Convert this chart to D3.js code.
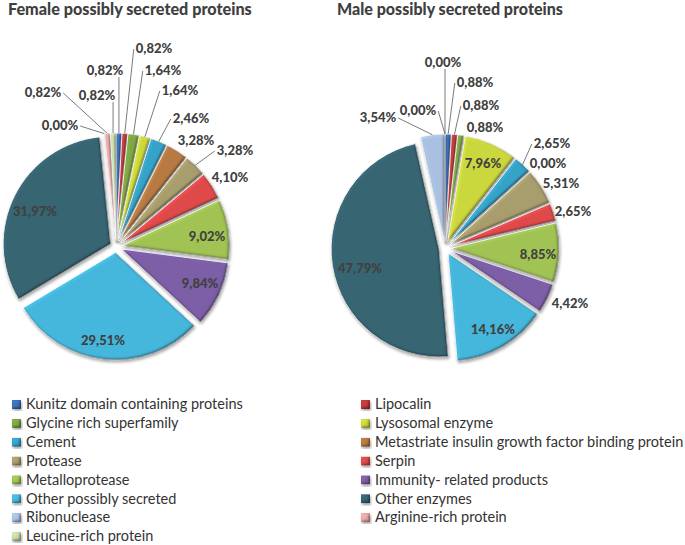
<!DOCTYPE html>
<html>
<head>
<meta charset="utf-8">
<script src="https://cdn.jsdelivr.net/npm/d3@7"></script>
<style>
  html, body { margin: 0; padding: 0; background: #fff; }
  svg { display: block; }
</style>
</head>
<body>
<svg id="chart" width="685" height="545"></svg>
<script>
// ---------------- data ----------------
const categories = [
  "Kunitz domain containing proteins",
  "Lipocalin",
  "Glycine rich superfamily",
  "Lysosomal enzyme",
  "Cement",
  "Metastriate insulin growth factor binding protein",
  "Protease",
  "Serpin",
  "Metalloprotease",
  "Immunity- related products",
  "Other possibly secreted",
  "Other enzymes",
  "Ribonuclease",
  "Arginine-rich protein",
  "Leucine-rich protein"
];
const femaleValues = [0.82, 0.82, 1.64, 1.64, 2.46, 3.28, 3.28, 4.10, 9.02, 9.84, 29.51, 31.97, 0.00, 0.82, 0.82];
const maleValues   = [0.88, 0.88, 0.88, 7.96, 2.65, 0.00, 5.31, 2.65, 8.85, 4.42, 14.16, 47.79, 3.54, 0.00, 0.00];
const chartTitles = ["Female possibly secreted proteins", "Male possibly secreted proteins"];

// ---------------- styles / layout ----------------
const colors = [
  "#3d71bd", "#c23b3d", "#7fa744", "#cbd83c", "#36a3c8",
  "#b67a42", "#a89d6c", "#df4a4a", "#a0c352", "#7c5ea6",
  "#45b6dc", "#376472", "#a9c0e2", "#e8a9a9", "#c9dcab"
];
const FONT = "Lato, 'Open Sans', sans-serif";
const TEXT = "#404040";

const pies = [
  { values: femaleValues, cx: 116, cy: 246.5, r: 107.5, titleX: 8, titleW: 244,
    labelPos: [[105,70],[154,48],[163,70],[180,90],[191,118],[196,140],[235,150],[230,177],
               [207,236],[200,283],[103,340],[35,211],[60,125],[43,92],[97,95]] },
  { values: maleValues, cx: 445, cy: 248, r: 108, titleX: 337, titleW: 226,
    labelPos: [[475,82],[481,105],[485,127],[483,163],[552,143],[548,163],[561,183],[573,211],
               [538,254],[570,303],[493,329],[360,268],[378,117],[418,110],[443,62]] }
];
const EXPLODE = 6;

const svg = d3.select("#chart");
const defs = svg.append("defs");

// bevel + shadow filter
const f = defs.append("filter").attr("id", "bevel")
  .attr("x", "-20%").attr("y", "-20%").attr("width", "140%").attr("height", "140%");
f.append("feGaussianBlur").attr("in", "SourceAlpha").attr("stdDeviation", 1.6).attr("result", "blur");
f.append("feDiffuseLighting").attr("in", "blur").attr("surfaceScale", 2.2)
  .attr("diffuseConstant", 1).attr("lighting-color", "#ffffff").attr("result", "diff")
  .append("feDistantLight").attr("azimuth", 225).attr("elevation", 60);
f.append("feComposite").attr("in", "SourceGraphic").attr("in2", "diff")
  .attr("operator", "arithmetic").attr("k1", 1.155).attr("k2", 0).attr("k3", 0).attr("k4", 0)
  .attr("result", "lit");
f.append("feComposite").attr("in", "lit").attr("in2", "SourceAlpha").attr("operator", "in").attr("result", "litIn");
f.append("feGaussianBlur").attr("in", "SourceAlpha").attr("stdDeviation", 1.4).attr("result", "sb");
f.append("feOffset").attr("in", "sb").attr("dx", 1.2).attr("dy", 1.6).attr("result", "so");
f.append("feComponentTransfer").attr("in", "so").attr("result", "sh")
  .append("feFuncA").attr("type", "linear").attr("slope", 0.35);
const m = f.append("feMerge");
m.append("feMergeNode").attr("in", "sh");
m.append("feMergeNode").attr("in", "litIn");

const fmt = v => d3.format(".2f")(v).replace(".", ",") + "%";

function fitFont(sel, base, target) {
  sel.style("font-size", base + "px");
  const w = sel.node().getComputedTextLength();
  sel.style("font-size", (base * target / w).toFixed(2) + "px");
}

pies.forEach((p, pi) => {
  // title
  const t = svg.append("text")
    .attr("x", p.titleX).attr("y", 15)
    .style("font-family", FONT).style("font-weight", "900").style("fill", TEXT)
    .text(chartTitles[pi]);
  fitFont(t, 16, p.titleW);

  const pie = d3.pie().sort(null).value(d => d).startAngle(0).endAngle(2 * Math.PI);
  const arcs = pie(p.values);
  const arc = d3.arc().innerRadius(0).outerRadius(p.r);

  const g = svg.append("g").attr("transform", `translate(${p.cx},${p.cy})`);
  arcs.forEach((a, i) => {
    const mid = (a.startAngle + a.endAngle) / 2;
    a.dx = EXPLODE * Math.sin(mid);
    a.dy = -EXPLODE * Math.cos(mid);
    a.mid = mid;
  });
  g.selectAll("path.slice").data(arcs).enter().append("path")
    .attr("class", "slice")
    .attr("d", d => d.value > 0 ? arc(d) : null)
    .attr("transform", d => `translate(${d.dx},${d.dy})`)
    .attr("fill", (d, i) => colors[i])
    .attr("stroke", "#ffffff").attr("stroke-width", 0.9)
    .attr("filter", "url(#bevel)");

  // labels
  const lg = svg.append("g");
  arcs.forEach((a, i) => {
    const [lx, ly] = p.labelPos[i];
    const txt = lg.append("text")
      .attr("x", lx).attr("y", ly)
      .attr("text-anchor", "middle").attr("dominant-baseline", "central")
      .style("font-family", FONT).style("font-weight", "900").style("font-size", "13px")
      .style("fill", TEXT)
      .text(fmt(a.value));
    // leader line to slice edge
    const ex = p.cx + a.dx + (p.r) * Math.sin(a.mid);
    const ey = p.cy + a.dy - (p.r) * Math.cos(a.mid);
    const w = txt.node().getComputedTextLength();
    const left = lx - w / 2, right = lx + w / 2, top = ly - 7, bottom = ly + 7;
    const ndx = Math.max(left - ex, 0, ex - right);
    const ndy = Math.max(top - ey, 0, ey - bottom);
    const dist = Math.hypot(ndx, ndy);
    const rr = Math.hypot(lx - p.cx, ly - p.cy);
    if (rr > p.r && dist > 12) {
      let sx, sy;
      if (ex < left) { sx = left - 2; sy = ly + 1; }
      else if (ex > right) { sx = right + 2; sy = ly + 1; }
      else { sx = ex; sy = ey > ly ? bottom : top; }
      lg.insert("path", "text")
        .attr("d", `M${sx},${sy}L${ex},${ey}`)
        .attr("stroke", "#595959").attr("stroke-width", 0.8).attr("fill", "none");
    }
  });
});

// legend (two columns, row-major)
const legend = svg.append("g");
const colX = [12, 361];
const rowY0 = 404.5, rowDY = 18.85;
let legendFont = null;
categories.forEach((c, i) => {
  const col = i % 2, row = Math.floor(i / 2);
  const y = rowY0 + row * rowDY;
  legend.append("rect")
    .attr("x", colX[col]).attr("y", y - 4.5).attr("width", 9).attr("height", 9)
    .attr("fill", colors[i]).attr("filter", "url(#bevel)");
  const t = legend.append("text")
    .attr("x", colX[col] + 14).attr("y", y + 4.8)
    .style("font-family", FONT).style("fill", "#333333")
    .text(c);
  if (i === 0) { fitFont(t, 13, 217); legendFont = t.style("font-size"); }
  else t.style("font-size", legendFont);
});
</script>
</body>
</html>
